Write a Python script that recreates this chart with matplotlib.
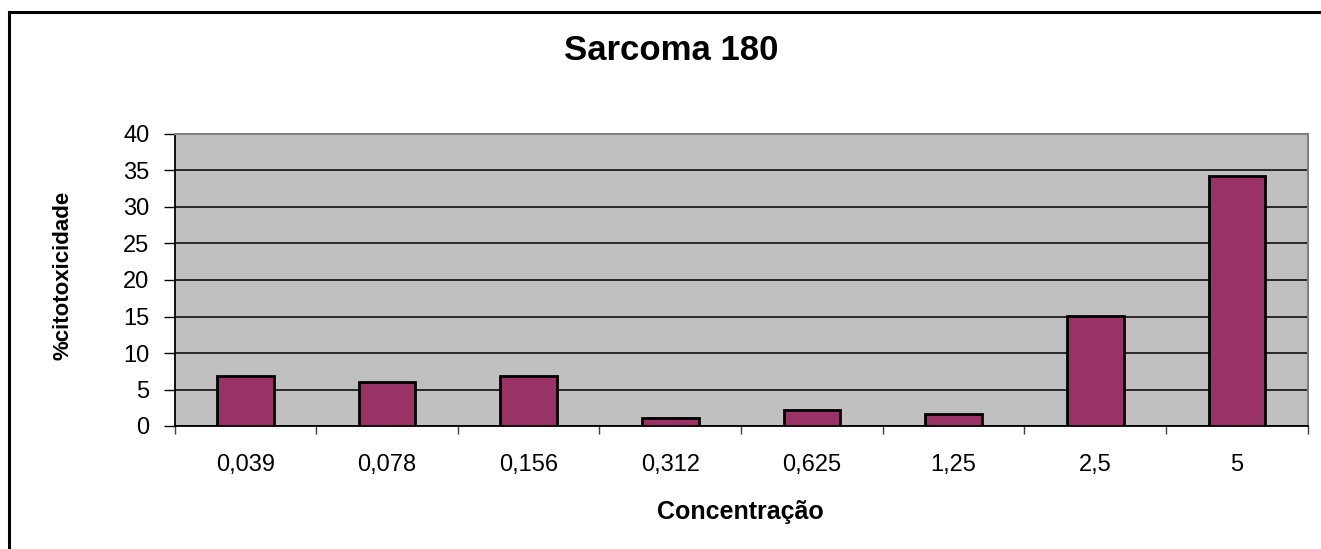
import numpy as np
import matplotlib.pyplot as plt
from matplotlib.patches import Rectangle

# --- datos ---
concentracoes = ['0,039', '0,078', '0,156', '0,312', '0,625', '1,25', '2,5', '5']
citotoxicidade = [6.9, 6.0, 6.9, 1.1, 2.2, 1.7, 15.1, 34.2]

plt.rcParams['font.family'] = ['Liberation Sans', 'DejaVu Sans']

W, H = 1321, 549
fig = plt.figure(figsize=(W / 100, H / 100), dpi=100)
fig.patch.set_facecolor('white')

# marco exterior del gráfico (estilo Excel)
fig.add_artist(Rectangle((9 / W, -0.1), 1.2, 1.1 - 12 / H,
                         transform=fig.transFigure, fill=False,
                         edgecolor='black', linewidth=2.2, clip_on=False))

ax = fig.add_axes([174.5 / W, 1 - 426 / H, (1307.7 - 174.5) / W, (426 - 134) / H])
ax.set_facecolor('#C0C0C0')

x = np.arange(len(concentracoes))
ax.bar(x, citotoxicidade, width=0.4, color='#993366', edgecolor='black',
       linewidth=2, zorder=3)

ax.set_xlim(-0.5, len(concentracoes) - 0.5)
ax.set_ylim(0, 40)
ax.set_yticks(range(0, 41, 5))
ax.yaxis.grid(True, color='black', linewidth=1.1, zorder=1)
ax.set_axisbelow(True)

# ticks en los bordes de categoría, etiquetas en el centro
ax.set_xticks(np.arange(-0.5, len(concentracoes), 1.0))
ax.set_xticklabels([])
ax.set_xticks(x, minor=True)
ax.set_xticklabels(concentracoes, minor=True)
ax.tick_params(axis='x', which='major', length=6, width=1, color='#404040', direction='out')
ax.tick_params(axis='x', which='minor', length=0, pad=20, labelsize=17)
ax.tick_params(axis='y', length=8, width=1, pad=10, labelsize=17)

for s in ['left', 'bottom']:
    ax.spines[s].set_color('black')
    ax.spines[s].set_linewidth(1.3)
for s in ['top', 'right']:
    ax.spines[s].set_color('#808080')
    ax.spines[s].set_linewidth(1.5)

fig.text(671 / W, 1 - 51 / H, 'Sarcoma 180', ha='center', va='center',
         fontsize=25, fontweight='bold')
fig.text(740 / W, 1 - 512 / H, 'Concentração', ha='center', va='center',
         fontsize=18, fontweight='bold')
fig.text(63 / W, 1 - 275 / H, '%citotoxicidade', ha='center', va='center',
         rotation=90, fontsize=16, fontweight='bold')

fig.savefig('out.png', dpi=100)
